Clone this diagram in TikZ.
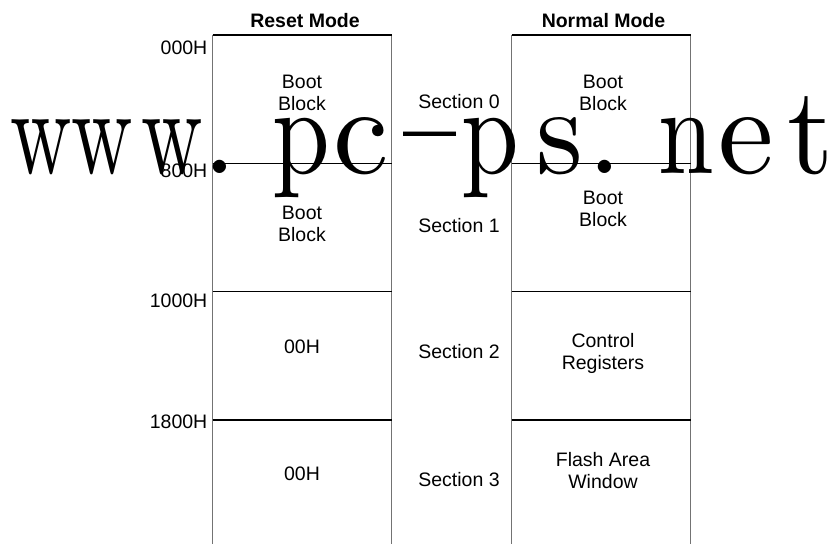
\documentclass[tikz,border=0pt]{standalone}
\usepackage{fontspec}
\setmainfont{Liberation Sans}
\newfontfamily\wmfont[Extension=.otf]{lmroman10-regular}
\begin{document}
\begin{tikzpicture}[x=1pt,y=-1pt,
  lbl/.style={inner sep=0pt,align=center,font=\fontsize{19.5}{22}\selectfont},
  ttl/.style={inner sep=0pt,font=\fontsize{19.5}{22}\selectfont\bfseries},
  addr/.style={inner sep=0pt,anchor=east,font=\fontsize{19.5}{22}\selectfont},
  hline/.style={draw=black,line width=1.3pt},
  vline/.style={draw=black!55,line width=1pt},
  wch/.style={inner sep=0pt,anchor=base,font=\wmfont\fontsize{125}{125}\selectfont}]
\useasboundingbox (0,0) rectangle (838,544);
% columns
\foreach \xl/\xr/\n in {212.5/391.7/L, 511.7/690.7/R}{
  \draw[vline] (\xl,35) -- (\xl,544);
  \draw[vline] (\xr,35) -- (\xr,544);
  \foreach \yy in {35,163.3,291.7,420}{
    \draw[hline] (\xl,\yy) -- (\xr,\yy);
  }
}
% titles
\node[ttl] (reset) at (305,21) {Reset Mode};
\node[ttl] (normal) at (603.5,21) {Normal Mode};
% addresses
\node[addr] (a0) at (207.5,48) {000H};
\node[addr] (a1) at (207.5,171) {800H};
\node[addr] (a2) at (207.5,300.7) {1000H};
\node[addr] (a3) at (207.5,421.7) {1800H};
% left column
\node[lbl] (l0) at (302,92.5) {Boot\\Block};
\node[lbl] (l1) at (302,224) {Boot\\Block};
\node[lbl] (l2) at (302,347) {00H};
\node[lbl] (l3) at (302,474) {00H};
% sections
\node[lbl] (s0) at (459,101.7) {Section 0};
\node[lbl] (s1) at (459,226) {Section 1};
\node[lbl] (s2) at (459,351.7) {Section 2};
\node[lbl] (s3) at (459,480) {Section 3};
% right column
\node[lbl] (r0) at (603,92.5) {Boot\\Block};
\node[lbl] (r1) at (603,209) {Boot\\Block};
\node[lbl] (r2) at (603,353) {Control\\Registers};
\node[lbl] (r3) at (603,471) {Flash Area\\Window};
% watermark, one glyph per cell
\foreach \ch/\xx/\sc/\i in {w/41/0.68/1, w/102/0.68/2, w/172/0.68/3, ./220/1/4,
    p/301/0.83/5, c/361/1/6, p/490/0.83/8, s/560/0.95/9, ./605/1/10,
    n/686/0.8/11, e/746/1/12, t/811/0.95/13}{
  \node[wch] (wm\i) at (\xx,173) {\scalebox{\sc}[1]{\ch}};
}
\node[wch] (wm7) at (430,187) {\scalebox{0.85}[1.6]{–}};
\end{tikzpicture}
\end{document}
